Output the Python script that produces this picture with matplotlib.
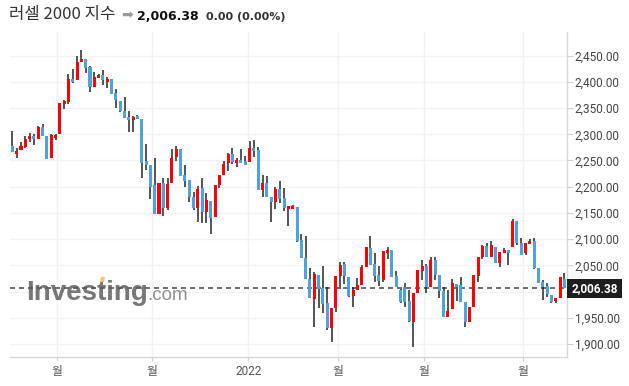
import matplotlib
matplotlib.use('Agg')
import matplotlib.pyplot as plt
import matplotlib.transforms as mtransforms
from matplotlib.patches import Rectangle, Polygon
from matplotlib.ticker import FuncFormatter
import numpy as np

plt.rcParams['font.family'] = ['Roboto', 'Noto Sans CJK KR', 'DejaVu Sans']

TITLE = '러셀 2000 지수'
LAST_PRICE = 2006.38
LAST_TEXT = '2,006.38'
CHANGE_TEXT = '0.00 (0.00%)'

# daily candles, 2021-10 .. 2022-04
opens = [
    2277.7, 2263.0, 2270.6, 2276.3, 2291.6, 2296.8, 2291.6, 2313.9, 2297.3, 2255.3,
    2293.5, 2300.0, 2358.4, 2362.2, 2405.5, 2404.2, 2438.6, 2443.7, 2428.4, 2390.8,
    2408.0, 2413.2, 2400.4, 2405.5, 2378.8, 2363.6, 2345.0, 2332.4, 2327.9, 2334.9,
    2329.2, 2249.0, 2240.8, 2203.2, 2148.5, 2207.1, 2159.9, 2207.6, 2256.1, 2271.4,
    2222.3, 2212.2, 2180.3, 2159.9, 2197.5, 2152.3, 2172.7, 2142.8, 2203.2, 2222.3,
    2244.7, 2263.0, 2245.8, 2251.0, 2248.5, 2247.1, 2273.9, 2270.0, 2193.7, 2207.6,
    2180.9, 2171.4, 2196.2, 2178.4, 2158.0, 2158.0, 2161.3, 2098.3, 2064.0, 2023.9,
    1986.3, 2030.9, 2006.7, 1978.1, 1930.9, 1969.1, 2029.6, 2052.5, 2027.7, 1992.0,
    2002.9, 2013.0, 2047.3, 2083.6, 2052.5, 2031.5, 2022.9, 2074.1, 2079.2, 2029.6,
    2002.9, 2008.0, 1981.9, 1942.4, 1996.6, 2039.7, 2048.7, 2009.2, 2060.1, 2031.5,
    2001.5, 1951.9, 1966.0, 2014.3, 2012.4, 1980.0, 1942.4, 1971.0, 2029.6, 2065.3,
    2086.8, 2066.4, 2085.5, 2055.0, 2074.1, 2079.2, 2084.9, 2135.1, 2093.1, 2072.9,
    2090.7, 2097.0, 2044.8, 2018.1, 2010.5, 1993.3, 1982.4, 1988.2, 2024.4]

highs = [
    2306.3, 2273.3, 2284.7, 2296.2, 2303.1, 2300.0, 2315.3, 2320.2, 2297.3, 2300.0,
    2301.1, 2359.7, 2364.9, 2414.5, 2424.6, 2448.9, 2460.3, 2443.7, 2429.8, 2419.5,
    2415.7, 2422.1, 2409.4, 2405.5, 2386.5, 2363.6, 2370.6, 2344.5, 2334.9, 2336.8,
    2329.2, 2280.9, 2240.8, 2254.2, 2207.1, 2217.2, 2217.2, 2271.4, 2277.7, 2271.4,
    2241.4, 2212.2, 2189.3, 2201.9, 2216.6, 2187.4, 2172.7, 2203.2, 2222.3, 2249.6,
    2264.9, 2274.4, 2254.2, 2271.4, 2258.6, 2287.2, 2288.6, 2275.2, 2222.3, 2220.4,
    2180.9, 2200.0, 2210.9, 2196.9, 2163.2, 2164.5, 2161.3, 2109.7, 2105.9, 2044.8,
    2037.8, 2030.9, 2048.7, 2008.0, 1967.9, 2029.6, 2055.7, 2056.9, 2027.7, 2009.2,
    2026.7, 2050.0, 2084.9, 2105.9, 2073.5, 2049.2, 2077.3, 2085.5, 2079.2, 2039.1,
    2004.2, 2016.8, 2002.9, 1996.6, 2041.0, 2060.1, 2051.9, 2066.4, 2066.4, 2031.5,
    2008.0, 2002.9, 2023.3, 2014.3, 2027.1, 1980.0, 1969.9, 2031.5, 2065.3, 2088.7,
    2093.1, 2097.0, 2085.5, 2074.8, 2082.1, 2079.2, 2137.8, 2135.1, 2101.5, 2093.1,
    2100.2, 2101.5, 2044.8, 2021.9, 2015.6, 1993.3, 1988.2, 2027.1, 2034.7]

lows = [
    2266.8, 2255.3, 2269.5, 2273.3, 2285.9, 2279.6, 2291.0, 2297.3, 2253.4, 2255.3,
    2288.6, 2300.0, 2347.7, 2357.3, 2397.3, 2404.2, 2438.6, 2417.0, 2381.3, 2390.8,
    2406.9, 2394.1, 2387.8, 2376.3, 2349.6, 2343.1, 2331.7, 2304.4, 2305.0, 2329.2,
    2216.0, 2231.9, 2176.0, 2148.5, 2148.5, 2143.5, 2155.5, 2207.6, 2249.6, 2220.4,
    2200.0, 2170.2, 2155.5, 2132.1, 2130.2, 2130.2, 2109.7, 2142.8, 2196.9, 2222.3,
    2230.5, 2243.3, 2237.0, 2245.8, 2242.0, 2247.1, 2256.1, 2193.7, 2179.8, 2180.9,
    2133.2, 2156.9, 2169.5, 2154.2, 2125.6, 2158.0, 2095.0, 2063.4, 2024.4, 1988.2,
    1931.7, 1967.9, 1959.5, 1926.0, 1903.0, 1960.3, 2004.2, 2014.3, 1988.9, 1969.9,
    2002.9, 2013.0, 2047.3, 2050.6, 2017.2, 2010.5, 2018.1, 2061.5, 2028.2, 2008.0,
    1978.1, 1971.0, 1942.4, 1894.7, 1996.6, 2021.9, 1996.6, 2009.2, 2021.9, 1987.0,
    1951.9, 1951.9, 1966.0, 1982.4, 1980.5, 1932.8, 1942.4, 1971.0, 2018.7, 2061.5,
    2066.4, 2066.4, 2053.8, 2047.3, 2074.1, 2050.0, 2084.9, 2088.7, 2070.2, 2069.1,
    2090.7, 2042.9, 2016.8, 1983.8, 1990.1, 1978.6, 1977.5, 1988.2, 2006.4]

closes = [
    2266.8, 2268.1, 2277.7, 2291.0, 2296.8, 2291.6, 2313.9, 2297.3, 2253.4, 2298.7,
    2298.7, 2359.2, 2363.6, 2405.5, 2400.4, 2437.4, 2443.7, 2427.1, 2390.8, 2409.4,
    2413.2, 2403.1, 2406.1, 2377.5, 2364.9, 2343.9, 2331.7, 2327.3, 2332.4, 2329.2,
    2245.8, 2241.4, 2200.0, 2148.5, 2207.1, 2159.9, 2205.2, 2254.2, 2271.4, 2220.4,
    2211.4, 2180.9, 2159.9, 2195.0, 2152.3, 2174.6, 2140.8, 2203.2, 2222.3, 2243.3,
    2262.4, 2247.1, 2251.0, 2245.8, 2242.0, 2273.9, 2268.7, 2193.7, 2207.6, 2180.9,
    2171.4, 2196.2, 2177.1, 2159.9, 2163.2, 2163.2, 2097.0, 2063.4, 2024.4, 1988.2,
    2033.4, 2004.2, 1976.7, 1930.9, 1967.9, 2029.6, 2050.6, 2029.6, 1991.4, 2002.9,
    2012.4, 2047.3, 2084.9, 2050.6, 2029.6, 2020.6, 2077.3, 2079.2, 2028.2, 2008.0,
    1980.5, 1980.5, 1944.3, 1996.6, 2041.0, 2048.7, 2009.2, 2060.1, 2032.1, 2001.5,
    1951.9, 1962.8, 2015.6, 2009.2, 1980.5, 1942.4, 1969.9, 2031.5, 2065.3, 2086.8,
    2066.4, 2088.7, 2053.8, 2074.8, 2079.2, 2074.1, 2135.1, 2092.0, 2070.2, 2093.1,
    2097.0, 2045.4, 2016.8, 2008.0, 1995.2, 1980.5, 1988.2, 2027.1, 2006.38]

month_ticks = [10.4, 32.4, 54.7, 75.5, 95.5, 118.4]
month_labels = ['월', '월', '2022', '월', '월', '월']
price_ticks = [1900, 1950, 2000, 2050, 2100, 2150, 2200, 2250, 2300, 2350, 2400, 2450]

UP = '#ff0000'
DOWN = '#4fa2da'
WICK = '#262626'
W, H = 629, 386


def price_label(v, _):
    # the 2,000.00 label sits under the last-price box in the original
    if abs(v - 2000) < 1:
        return ''
    return f'{v:,.2f}'


def draw_candles(ax):
    x = np.arange(len(opens))
    o = np.array(opens)
    c = np.array(closes)
    colors = np.where(c >= o, UP, DOWN)
    ax.vlines(x, lows, highs, color=WICK, lw=1.1, zorder=3)
    bottom = np.minimum(o, c)
    height = np.maximum(np.abs(c - o), 1.6)
    ax.bar(x, height, bottom=bottom, width=0.7, color=colors, lw=0, zorder=4)


def main():
    fig = plt.figure(figsize=(W / 100, H / 100), dpi=100)
    ax = fig.add_axes([10 / W, 1 - 356.7 / H, 557 / W, (356.7 - 32) / H])

    draw_candles(ax)

    ax.set_xlim(-0.55, 128.6)
    ax.set_ylim(1875.6, 2495.2)

    ax.set_axisbelow(True)
    ax.grid(color='#f2f2f2', lw=1)

    ax.yaxis.tick_right()
    ax.set_yticks(price_ticks)
    ax.yaxis.set_major_formatter(FuncFormatter(price_label))
    ax.set_xticks(month_ticks)
    ax.set_xticklabels(month_labels)
    ax.tick_params(axis='y', length=4, pad=1.5, color='#d0d0d0', labelsize=8.5, labelcolor='#444')
    ax.tick_params(axis='x', length=3, pad=3, color='#d0d0d0', labelsize=8.5, labelcolor='#555')

    for side in ('left', 'top'):
        ax.spines[side].set_visible(False)
    for side in ('right', 'bottom'):
        ax.spines[side].set_color('#d8d8d8')
        ax.spines[side].set_linewidth(1)

    # last price line and label box
    ax.axhline(LAST_PRICE, color='#555555', lw=1.2, dashes=(3, 2.4), zorder=2)
    blend = mtransforms.blended_transform_factory(ax.transAxes, ax.transData)
    ax.add_patch(Rectangle((1.0, 1988.2), 55 / 557, 35.7, transform=blend,
                           facecolor='#1e1e1e', edgecolor='none', clip_on=False, zorder=5))
    ax.text(1.0 + 27.5 / 557, LAST_PRICE, LAST_TEXT, transform=blend, ha='center', va='center',
            color='white', fontsize=8.5, fontweight='bold', clip_on=False, zorder=6)

    # watermark
    ax.text(26 / W, 1 - 300 / H, 'Investing', transform=fig.transFigure,
            family='Liberation Sans', fontweight='bold', fontsize=20, color='#777777', zorder=1)
    ax.text(147 / W, 1 - 300 / H, '.com', transform=fig.transFigure,
            family='Liberation Sans', fontsize=13.5, color='#8f8f8f', zorder=1)
    ax.add_patch(Polygon([(100 / W, 1 - 282 / H), (104 / W, 1 - 282 / H),
                          (105 / W, 1 - 277 / H), (101 / W, 1 - 277 / H)],
                         transform=fig.transFigure, facecolor='#f7c56b', edgecolor='none',
                         clip_on=False, zorder=1))

    # header
    base = 1 - 19.5 / H
    fig.text(9 / W, base, TITLE, family=['Noto Sans CJK KR', 'DejaVu Sans'],
             fontsize=12, color='#333333', va='baseline')
    fig.text(121 / W, 1 - 14.5 / H, '➡', family='DejaVu Sans', fontsize=10,
             color='#9a9a9a', va='center')
    fig.text(137 / W, base, LAST_TEXT, family='DejaVu Sans', fontweight='bold',
             fontsize=9, color='#111111', va='baseline')
    fig.text(206 / W, base, CHANGE_TEXT, family='DejaVu Sans', fontweight='bold',
             fontsize=8, color='#333333', va='baseline')

    fig.savefig('out.png', dpi=100)


if __name__ == '__main__':
    main()
